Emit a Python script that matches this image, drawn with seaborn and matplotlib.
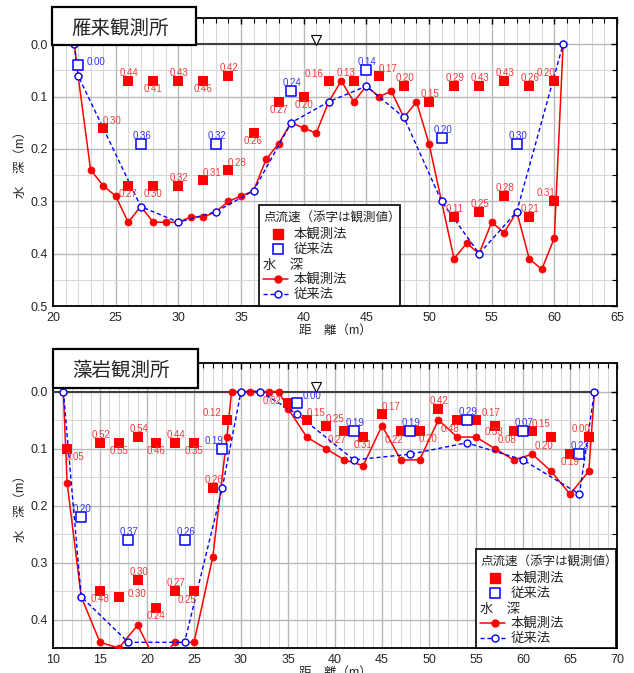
import matplotlib
matplotlib.use('Agg')
import matplotlib.pyplot as plt
from matplotlib.patches import Rectangle
from matplotlib.lines import Line2D
from matplotlib.ticker import MultipleLocator, FormatStrFormatter
import seaborn as sns

sns.set_style('white')
plt.rcParams['font.family'] = ['Liberation Sans', 'Noto Sans CJK JP', 'DejaVu Sans']
plt.rcParams['axes.unicode_minus'] = False

W, H = 634, 673

# ---- 雁来観測所 ----
kari_title = '雁来観測所'
kari_xlim = (20, 65)
kari_ylim = (0.5, -0.05)
kari_surface_x = 41

kari_line_new_x = [21.7, 22, 23, 24, 25, 26, 27, 28, 29, 30, 31, 32, 33, 34, 35, 36, 37, 38, 39, 40,
                   41, 42, 43, 44, 45, 46, 47, 48, 49, 50, 51, 52, 53, 54, 55, 56, 57, 58, 59, 60, 60.7]
kari_line_new_d = [0.0, 0.06, 0.24, 0.27, 0.29, 0.34, 0.31, 0.34, 0.34, 0.34, 0.33, 0.33, 0.32, 0.30, 0.29,
                   0.28, 0.22, 0.19, 0.15, 0.16, 0.17, 0.11, 0.07, 0.11, 0.08, 0.10, 0.09, 0.14, 0.11, 0.19,
                   0.30, 0.41, 0.38, 0.40, 0.34, 0.36, 0.32, 0.41, 0.43, 0.37, 0.0]
kari_line_old_x = [21.7, 22, 27, 30, 33, 36, 39, 42, 45, 48, 51, 54, 57, 60.7]
kari_line_old_d = [0.0, 0.06, 0.31, 0.34, 0.32, 0.28, 0.15, 0.11, 0.08, 0.14, 0.30, 0.40, 0.32, 0.0]

kari_pt_new_x = [24, 26, 28, 30, 32, 34, 36, 38, 40, 42, 44, 46, 48, 50, 52, 54, 56, 58, 60,
                 26, 28, 30, 32, 34, 52, 54, 56, 58, 60]
kari_pt_new_d = [0.16, 0.07, 0.07, 0.07, 0.07, 0.06, 0.17, 0.11, 0.10, 0.07, 0.07, 0.06, 0.08, 0.11,
                 0.08, 0.08, 0.07, 0.08, 0.07, 0.27, 0.27, 0.27, 0.26, 0.24, 0.33, 0.32, 0.29, 0.33, 0.30]
kari_pt_new_v = ['0.30', '0.44', '0.41', '0.43', '0.46', '0.42', '0.26', '0.27', '0.20', '0.16', '0.13',
                 '0.17', '0.20', '0.15', '0.29', '0.43', '0.43', '0.26', '0.20', '0.27', '0.30', '0.32',
                 '0.31', '0.28', '0.11', '0.25', '0.28', '0.21', '0.31']
kari_pt_new_pos = ['ar', 'a', 'b', 'a', 'b', 'a', 'b', 'b', 'b', 'la', 'al', 'ar', 'a', 'a', 'a', 'a', 'a',
                   'a', 'al', 'b', 'b', 'a', 'ar', 'ar', 'a', 'a', 'a', 'a', 'al']

kari_pt_old_x = [22, 27, 33, 39, 45, 51, 57]
kari_pt_old_d = [0.04, 0.19, 0.19, 0.09, 0.05, 0.18, 0.19]
kari_pt_old_v = ['0.00', '0.36', '0.32', '0.24', '0.14', '0.20', '0.30']
kari_pt_old_pos = ['r', 'a', 'a', 'a', 'a', 'a', 'a']

# ---- 藻岩観測所 ----
moiwa_title = '藻岩観測所'
moiwa_xlim = (10, 70)
moiwa_ylim = (0.45, -0.05)
moiwa_surface_x = 38

moiwa_line_new_x = [11.1, 11.5, 13, 15, 17, 19, 21, 23, 25, 27, 28.5, 29, 30, 31, 32, 33, 34, 35,
                    37, 39, 41, 43, 45, 47, 49, 51, 53, 55, 57, 59, 61, 63, 65, 67, 67.6]
moiwa_line_new_d = [0.0, 0.16, 0.36, 0.44, 0.45, 0.41, 0.475, 0.44, 0.44, 0.29, 0.08, 0.0, 0.0, 0.0,
                    0.0, 0.0, 0.0, 0.03, 0.08, 0.10, 0.12, 0.13, 0.06, 0.12, 0.12, 0.05, 0.08, 0.08,
                    0.10, 0.12, 0.11, 0.14, 0.18, 0.14, 0.0]
moiwa_line_old_x = [11.1, 13, 18, 24, 28, 30, 32, 36, 42, 48, 54, 60, 66, 67.6]
moiwa_line_old_d = [0.0, 0.36, 0.44, 0.44, 0.17, 0.0, 0.0, 0.04, 0.12, 0.11, 0.09, 0.12, 0.18, 0.0]

moiwa_pt_new_x = [11.5, 15, 17, 19, 21, 23, 25, 27, 28.5, 15, 17, 19, 21, 23, 25, 35, 37, 39, 41, 43,
                  45, 47, 49, 51, 53, 55, 57, 59, 61, 63, 65, 67]
moiwa_pt_new_d = [0.10, 0.09, 0.09, 0.08, 0.09, 0.09, 0.09, 0.17, 0.05, 0.35, 0.36, 0.33, 0.38, 0.35,
                  0.35, 0.02, 0.05, 0.06, 0.07, 0.08, 0.04, 0.07, 0.07, 0.03, 0.05, 0.05, 0.06, 0.07,
                  0.07, 0.08, 0.11, 0.08]
moiwa_pt_new_v = ['0.05', '0.52', '0.55', '0.54', '0.46', '0.44', '0.35', '0.26', '0.12', '0.48', '0.30',
                  '0.30', '0.24', '0.27', '0.25', '0.02', '0.15', '0.25', '0.27', '0.31', '0.17', '0.22',
                  '0.20', '0.42', '0.48', '0.17', '0.33', '0.08', '0.15', '0.20', '0.19', '0.00']
moiwa_pt_new_pos = ['br', 'a', 'b', 'a', 'b', 'a', 'b', 'a', 'la', 'b', 'r', 'a', 'b', 'a', 'bl', 'l',
                    'ar', 'ar', 'bl', 'b', 'ar', 'bl', 'br', 'a', 'bl', 'ra', 'bb', 'bl', 'ar', 'bl',
                    'b', 'al']

moiwa_pt_old_x = [13, 18, 24, 28, 36, 42, 48, 54, 60, 66]
moiwa_pt_old_d = [0.22, 0.26, 0.26, 0.10, 0.02, 0.07, 0.07, 0.05, 0.07, 0.11]
moiwa_pt_old_v = ['0.20', '0.37', '0.26', '0.19', '0.00', '0.19', '0.19', '0.29', '0.07', '0.23']
moiwa_pt_old_pos = ['a', 'a', 'a', 'al', 'ra', 'a', 'a', 'a', 'a', 'a']

# label offsets in pixels
OFFS = {'a': (1, 8), 'b': (0, -8), 'bb': (-1, -6), 'al': (-8, 8), 'ar': (9, 7), 'bl': (-7, -9),
        'br': (8, -8), 'l': (-16, 2), 'r': (18, 3), 'la': (-15, 7), 'ra': (15, 7)}

RED = '#ff0000'
BLUE = '#0000ff'
LRED = '#f23a3a'
LBLUE = '#3333ff'


def fx(x):
    return x / W


def fy(y):
    return 1 - y / H


def panel(ax, xlim, ylim, surface_x, ln_x, ln_d, lo_x, lo_d,
          pn_x, pn_d, pn_v, pn_pos, po_x, po_d, po_v, po_pos):
    ax.set_xlim(*xlim)
    ax.set_ylim(*ylim)
    ax.xaxis.set_major_locator(MultipleLocator(5))
    ax.xaxis.set_minor_locator(MultipleLocator(1))
    ax.yaxis.set_major_locator(MultipleLocator(0.1))
    ax.yaxis.set_minor_locator(MultipleLocator(0.05))
    ax.yaxis.set_major_formatter(FormatStrFormatter('%.1f'))
    ax.set_axisbelow(True)
    ax.grid(which='major', color='#b8b8b8', lw=1.0)
    ax.grid(which='minor', color='#d6d6d6', lw=0.7)
    for s in ax.spines.values():
        s.set_visible(True)
        s.set_color('black')
        s.set_linewidth(1.3)
    ax.tick_params(which='both', direction='in', top=True, right=True, color='black',
                   labelsize=9, pad=4)
    ax.tick_params(which='major', length=4, width=1)
    ax.tick_params(which='minor', length=3.5, width=0.8)

    # water surface
    ax.plot([xlim[0], ln_x[-1]], [0, 0], color='#404040', lw=1.5, zorder=3)
    ax.plot(surface_x, -0.008, marker='v', ms=6.5, mfc='white', mec='black', mew=0.8, zorder=6)

    sns.lineplot(x=ln_x, y=ln_d, ax=ax, color=RED, lw=1.1, marker='o', markersize=4.8,
                 markeredgecolor=RED, estimator=None, sort=False, zorder=4)
    sns.lineplot(x=lo_x, y=lo_d, ax=ax, color=BLUE, lw=1.0, linestyle=(0, (3, 2)), marker='o',
                 markersize=5, markerfacecolor='white', markeredgecolor=BLUE, markeredgewidth=1,
                 estimator=None, sort=False, zorder=5)
    sns.scatterplot(x=pn_x, y=pn_d, ax=ax, marker='s', s=42, color=RED, edgecolor=RED,
                    linewidth=0, zorder=6)
    sns.scatterplot(x=po_x, y=po_d, ax=ax, marker='s', s=48, facecolor='white', edgecolor=BLUE,
                    linewidth=1.1, zorder=6)

    for x, d, v, p in zip(pn_x, pn_d, pn_v, pn_pos):
        ax.annotate(v, (x, d), xytext=OFFS[p], textcoords='offset pixels', ha='center',
                    va='center', fontsize=7, color=LRED, zorder=7)
    for x, d, v, p in zip(po_x, po_d, po_v, po_pos):
        ax.annotate(v, (x, d), xytext=OFFS[p], textcoords='offset pixels', ha='center',
                    va='center', fontsize=7, color=LBLUE, zorder=7)

    ax.set_xlabel('距　離（m）', fontsize=9, labelpad=1)
    ax.set_ylabel('水　深（m）', fontsize=9, labelpad=2)


def title_box(fig, left, top, right, bottom, text, tx, ty):
    fig.add_artist(Rectangle((fx(left), fy(bottom)), fx(right) - fx(left), fy(top) - fy(bottom),
                             transform=fig.transFigure, facecolor='white', edgecolor='black',
                             lw=1.6, zorder=10))
    fig.text(fx(tx), fy(ty), text, fontsize=14, ha='center', va='center', zorder=11,
             family=['Noto Sans CJK JP'])


def key_box(fig, left, top, right, bottom):
    fig.add_artist(Rectangle((fx(left), fy(bottom)), fx(right) - fx(left), fy(top) - fy(bottom),
                             transform=fig.transFigure, facecolor='white', edgecolor='black',
                             lw=1.2, zorder=10))
    rows = [top + 13, top + 29, top + 44, top + 60, top + 74, top + 89]
    kw = dict(fontsize=9, va='center', ha='left', zorder=11, family=['Noto Sans CJK JP'])
    kw2 = dict(kw, fontsize=9.6)
    fig.text(fx(left + 4), fy(rows[0]), '点流速（添字は観測値）', **kw)
    fig.text(fx(left + 4), fy(rows[3]), '水　深', **kw2)
    mx = left + 19
    fig.add_artist(Line2D([fx(mx)], [fy(rows[1])], transform=fig.transFigure, marker='s', ms=7,
                          mfc=RED, mec=RED, ls='none', zorder=11))
    fig.add_artist(Line2D([fx(mx)], [fy(rows[2])], transform=fig.transFigure, marker='s', ms=7.5,
                          mfc='white', mec=BLUE, mew=1.1, ls='none', zorder=11))
    fig.add_artist(Line2D([fx(left + 4), fx(left + 29)], [fy(rows[4])] * 2, transform=fig.transFigure,
                          color=RED, lw=1.1, zorder=11))
    fig.add_artist(Line2D([fx(mx)], [fy(rows[4])], transform=fig.transFigure, marker='o', ms=5,
                          mfc=RED, mec=RED, ls='none', zorder=12))
    fig.add_artist(Line2D([fx(left + 4), fx(left + 29)], [fy(rows[5])] * 2, transform=fig.transFigure,
                          color=BLUE, lw=1.0, ls=(0, (3, 2)), zorder=11))
    fig.add_artist(Line2D([fx(mx)], [fy(rows[5])], transform=fig.transFigure, marker='o', ms=5,
                          mfc='white', mec=BLUE, mew=1, ls='none', zorder=12))
    fig.text(fx(left + 35), fy(rows[1]), '本観測法', **kw2)
    fig.text(fx(left + 35), fy(rows[2]), '従来法', **kw2)
    fig.text(fx(left + 35), fy(rows[4]), '本観測法', **kw2)
    fig.text(fx(left + 35), fy(rows[5]), '従来法', **kw2)


fig = plt.figure(figsize=(W / 100, H / 100), dpi=100)
ax1 = fig.add_axes([fx(53), fy(306), fx(617) - fx(53), fy(18) - fy(306)])
ax2 = fig.add_axes([fx(53), fy(648), fx(617) - fx(53), fy(363) - fy(648)])

panel(ax1, kari_xlim, kari_ylim, kari_surface_x, kari_line_new_x, kari_line_new_d,
      kari_line_old_x, kari_line_old_d, kari_pt_new_x, kari_pt_new_d, kari_pt_new_v,
      kari_pt_new_pos, kari_pt_old_x, kari_pt_old_d, kari_pt_old_v, kari_pt_old_pos)
panel(ax2, moiwa_xlim, moiwa_ylim, moiwa_surface_x, moiwa_line_new_x, moiwa_line_new_d,
      moiwa_line_old_x, moiwa_line_old_d, moiwa_pt_new_x, moiwa_pt_new_d, moiwa_pt_new_v,
      moiwa_pt_new_pos, moiwa_pt_old_x, moiwa_pt_old_d, moiwa_pt_old_v, moiwa_pt_old_pos)

title_box(fig, 52, 7, 196, 45, kari_title, 120, 28)
title_box(fig, 53, 349, 198, 388, moiwa_title, 121, 370)
key_box(fig, 259, 205, 400, 306)
key_box(fig, 476, 549, 616, 648)

fig.savefig('out.png', dpi=100)
